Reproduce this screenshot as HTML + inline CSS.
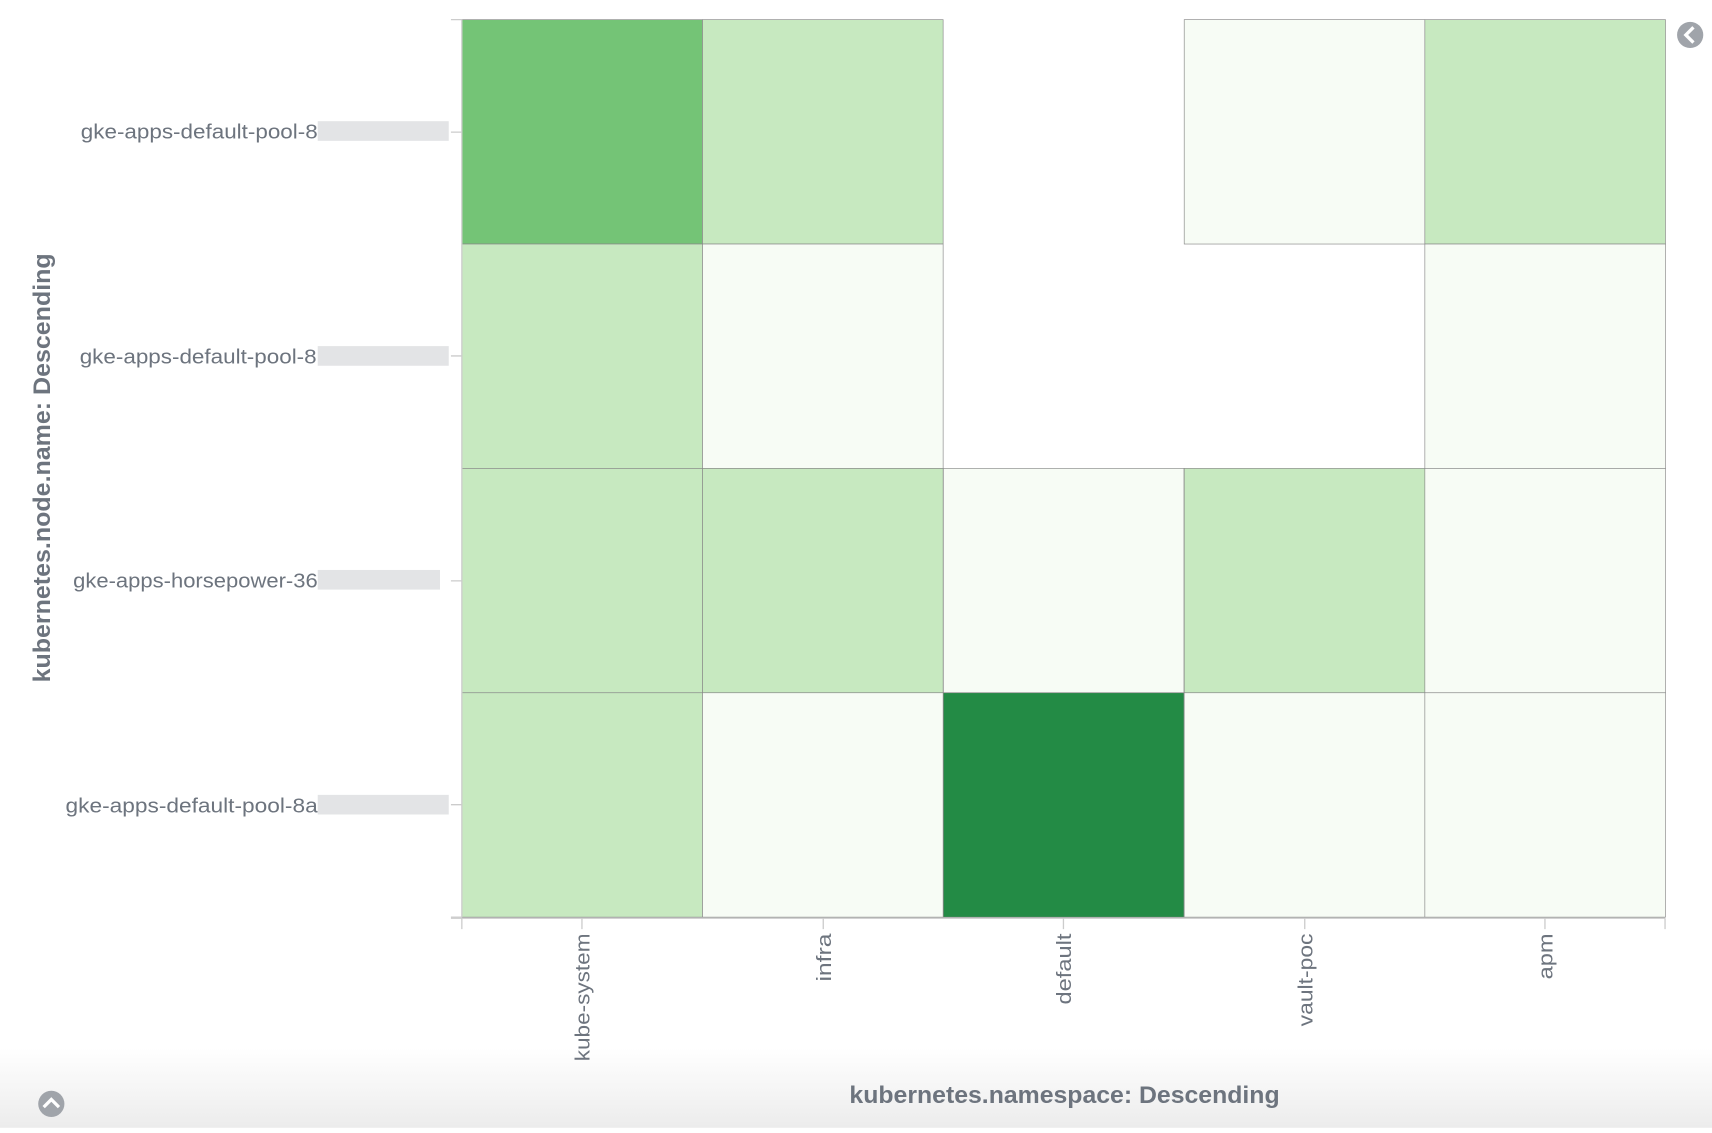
<!DOCTYPE html>
<html><head><style>
body{margin:0;width:1712px;height:1128px;overflow:hidden;background:#fff;font-family:"Liberation Sans",sans-serif}
#w{position:absolute;left:0;top:0;width:1568px;height:1033px;transform:scale(1.09184);transform-origin:0 0}
</style></head><body><div id="w">
<svg width="1568" height="1033" viewBox="0 0 1568 1033">
<defs><linearGradient id="g" x1="0" y1="0" x2="0" y2="1"><stop offset="0" stop-color="#fff"/><stop offset="1" stop-color="#ececec"/></linearGradient></defs>
<rect x="0" y="960" width="1568" height="73" fill="url(#g)"/>
<g stroke="#888" stroke-width="0.6">
<rect x="423" y="18" width="220.4" height="205.5" fill="#74c476"/>
<rect x="643.4" y="18" width="220.4" height="205.5" fill="#c7e9c0"/>
<rect x="1084.6" y="18" width="220.4" height="205.5" fill="#f7fcf5"/>
<rect x="1305" y="18" width="220.4" height="205.5" fill="#c7e9c0"/>
<rect x="423" y="223.5" width="220.4" height="205.5" fill="#c7e9c0"/>
<rect x="643.4" y="223.5" width="220.4" height="205.5" fill="#f7fcf5"/>
<rect x="1305" y="223.5" width="220.4" height="205.5" fill="#f7fcf5"/>
<rect x="423" y="429" width="220.4" height="205.5" fill="#c7e9c0"/>
<rect x="643.4" y="429" width="220.4" height="205.5" fill="#c7e9c0"/>
<rect x="864" y="429" width="220.4" height="205.5" fill="#f7fcf5"/>
<rect x="1084.6" y="429" width="220.4" height="205.5" fill="#c7e9c0"/>
<rect x="1305" y="429" width="220.4" height="205.5" fill="#f7fcf5"/>
<rect x="423" y="634.5" width="220.4" height="205.5" fill="#c7e9c0"/>
<rect x="643.4" y="634.5" width="220.4" height="205.5" fill="#f7fcf5"/>
<rect x="864" y="634.5" width="220.4" height="205.5" fill="#238b45"/>
<rect x="1084.6" y="634.5" width="220.4" height="205.5" fill="#f7fcf5"/>
<rect x="1305" y="634.5" width="220.4" height="205.5" fill="#f7fcf5"/>
</g>
<g stroke="#ccc" stroke-width="1.2" fill="none">
<path d="M413 18H423M413 121H423M413 326H423M413 532H423M413 737H423M413 840H423M423 840V18"/>
<path d="M413 841H1525M423 841V851M533 841V851M754 841V851M974 841V851M1195 841V851M1415 841V851M1525 841V851"/>
</g>
<g fill="#6d747e" font-size="19">
<text x="74" y="127" textLength="217" lengthAdjust="spacingAndGlyphs">gke-apps-default-pool-8</text>
<text x="73" y="333" textLength="217" lengthAdjust="spacingAndGlyphs">gke-apps-default-pool-8</text>
<text x="67" y="538" textLength="224" lengthAdjust="spacingAndGlyphs">gke-apps-horsepower-36</text>
<text x="60" y="744" textLength="231" lengthAdjust="spacingAndGlyphs">gke-apps-default-pool-8a</text>
</g>
<g fill="#e3e4e6">
<rect x="291" y="111" width="120" height="18"/><rect x="291" y="317" width="120" height="18"/>
<rect x="291" y="522" width="112" height="18"/><rect x="291" y="728" width="120" height="18"/>
</g>
<g fill="#6d747e" font-size="19" text-anchor="end">
<text transform="translate(540,855) rotate(-90)" textLength="117" lengthAdjust="spacingAndGlyphs">kube-system</text>
<text transform="translate(761,855) rotate(-90)" textLength="44" lengthAdjust="spacingAndGlyphs">infra</text>
<text transform="translate(981,855) rotate(-90)" textLength="65" lengthAdjust="spacingAndGlyphs">default</text>
<text transform="translate(1202,855) rotate(-90)" textLength="85" lengthAdjust="spacingAndGlyphs">vault-poc</text>
<text transform="translate(1422,855) rotate(-90)" textLength="42" lengthAdjust="spacingAndGlyphs">apm</text>
</g>
<text x="778" y="1010" fill="#6d747e" font-size="22" font-weight="bold" textLength="394" lengthAdjust="spacingAndGlyphs">kubernetes.namespace: Descending</text>
<text transform="translate(46,625) rotate(-90)" fill="#6d747e" font-size="22" font-weight="bold" textLength="393" lengthAdjust="spacingAndGlyphs">kubernetes.node.name: Descending</text>
<circle cx="1548" cy="32" r="12" fill="#a0a4aa"/><path d="M1551 25L1544 32L1551 39" stroke="#fff" stroke-width="3" fill="none"/>
<circle cx="47" cy="1011" r="12" fill="#a0a4aa"/><path d="M40 1014L47 1007L54 1014" stroke="#fff" stroke-width="3" fill="none"/>
</svg></div></body></html>
